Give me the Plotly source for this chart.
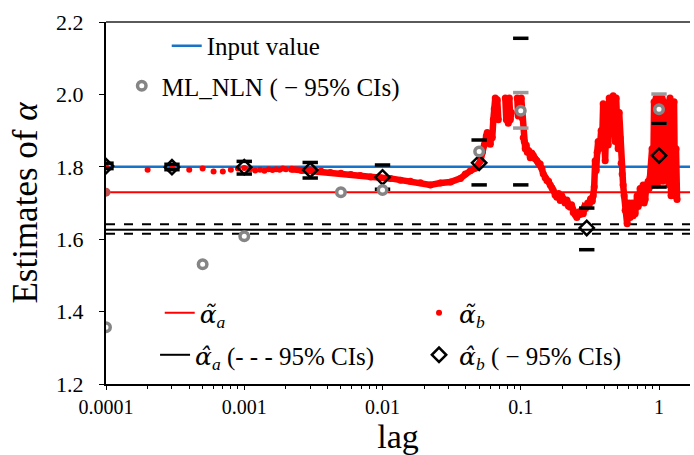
import plotly.graph_objects as go

FONT = "'Liberation Serif', 'Times New Roman', serif"
GREEK = "'DejaVu Serif', serif"

# ---------------- data ----------------
input_value = 1.80
alpha_a_tilde = 1.730
alpha_a_hat = 1.626
alpha_a_hat_ci_low = 1.615
alpha_a_hat_ci_high = 1.641
line_lags = [0.0001, 2.0]

ml_lag = [0.0001, 0.0005, 0.001, 0.005, 0.01, 0.05, 0.1, 1.0]
ml_alpha = [1.357, 1.531, 1.608, 1.730, 1.736, 1.842, 1.955, 1.959]
ml_ci_lag = [0.1, 1.0]
ml_ci_low = [1.907, 1.920]
ml_ci_high = [2.005, 2.001]

b_lag = [0.0001, 0.0003, 0.001, 0.003, 0.01, 0.05, 0.1, 0.3, 1.0]
b_alpha = [1.802, 1.799, 1.799, 1.791, 1.771, 1.811, None, 1.631, 1.831]
b_ci_low = [1.795, 1.792, 1.780, 1.769, 1.738, 1.750, 1.750, 1.571, 1.744]
b_ci_high = [1.810, 1.807, 1.815, 1.812, 1.805, 1.874, 2.155, 1.686, 1.920]

tilde_b_lag_sparse = [0.0001, 0.0002, 0.0003, 0.0004, 0.0005, 0.0006, 0.0007,
                      0.0008, 0.0009, 0.0010, 0.0011, 0.0012, 0.0013, 0.0014,
                      0.0015, 0.0016, 0.0017, 0.0018, 0.0019, 0.0020]
tilde_b_sparse = [1.800, 1.792, 1.798, 1.792, 1.795, 1.787, 1.787,
                  1.792, 1.795, 1.797, 1.793, 1.790, 1.792, 1.789,
                  1.793, 1.791, 1.793, 1.792, 1.795, 1.793]

tilde_b_lag_dense = [
    0.0022, 0.0026, 0.0030, 0.0036, 0.0042, 0.0050, 0.0059, 0.0069, 0.0082,
    0.0097, 0.0114, 0.0135, 0.0159, 0.0188, 0.0222, 0.0262, 0.0310, 0.0366,
    0.0397, 0.0432, 0.0469, 0.0510, 0.0528, 0.0545, 0.0563, 0.0572, 0.0582,
    0.0602, 0.0612, 0.0622, 0.0633, 0.0643, 0.0654, 0.0665, 0.0676, 0.0688,
    0.0720,
    0.0773, 0.0786, 0.0799, 0.0812, 0.0826, 0.0840, 0.0854,
    0.0900,
    0.0943, 0.0959, 0.0975, 0.0991, 0.1008, 0.1025, 0.1042, 0.1060, 0.1077,
    0.1095, 0.1114, 0.1140, 0.1171, 0.1200, 0.1230, 0.1270, 0.1310, 0.1345,
    0.1383, 0.1420, 0.1453, 0.1500, 0.1544, 0.1590, 0.1633, 0.1680, 0.1716,
    0.1770, 0.1824, 0.1880, 0.1929, 0.1980, 0.2027, 0.2090, 0.2155, 0.2210,
    0.2278, 0.2330, 0.2394, 0.2470, 0.2544, 0.2620, 0.2691, 0.2760, 0.2829,
    0.2900, 0.2973, 0.3050, 0.3126, 0.3200, 0.3286, 0.3340, 0.3397, 0.3453,
    0.3510, 0.3569, 0.3629, 0.3690, 0.3752, 0.3815, 0.3879, 0.3944, 0.4010,
    0.4078, 0.4150, 0.4216, 0.4286, 0.4360, 0.4431, 0.4510, 0.4581, 0.4658,
    0.4735, 0.4815, 0.4896, 0.4980, 0.5062, 0.5150, 0.5233, 0.5320, 0.5410,
    0.5500, 0.5593, 0.5686, 0.5780, 0.5879, 0.5980, 0.6078, 0.6180, 0.6283,
    0.6390, 0.6495, 0.6600, 0.6716, 0.6830, 0.6943, 0.7060, 0.7178, 0.7298,
    0.7420, 0.7545, 0.7670, 0.7800, 0.7931, 0.8060, 0.8199, 0.8340, 0.8477,
    0.8620, 0.8763, 0.8911, 0.9060, 0.9213, 0.9366, 0.9524, 0.9683, 0.9846,
    1.0011, 1.017, 1.035, 1.052, 1.070, 1.088, 1.105, 1.124, 1.143, 1.162,
    1.182, 1.201, 1.222, 1.242, 1.263, 1.284, 1.305, 1.327, 1.350]
tilde_b_dense = [
    1.793, 1.790, 1.791, 1.788, 1.784, 1.782, 1.779, 1.776, 1.772,
    1.770, 1.768, 1.763, 1.760, 1.756, 1.750, 1.755, 1.758, 1.768,
    1.780, 1.789, 1.796, 1.815, 1.840, 1.860, 1.885, 1.895, 1.870,
    1.862, 1.890, 1.880, 1.930, 1.960, 1.990, 1.940, 1.985, 1.930,
    None,
    1.990, 1.930, 1.980, 1.920, 1.990, 1.930, 1.950,
    None,
    1.990, 1.940, 1.985, 1.950, 1.990, 1.935, 1.880, 1.870, 1.850,
    1.860, 1.840, 1.845, 1.825, 1.838, 1.832, 1.822, 1.817, 1.810,
    1.808, 1.795, 1.781, 1.770, 1.762, 1.760, 1.750, 1.742, 1.735,
    1.722, 1.716, 1.726, 1.707, 1.720, 1.712, 1.700, 1.708, 1.692,
    1.688, 1.695, 1.674, 1.668, 1.660, 1.675, 1.668, 1.680, 1.670,
    1.690, 1.688, 1.700, 1.695, 1.712, 1.705, 1.720, 1.745, 1.817,
    1.790, 1.840, 1.870, 1.850, 1.862, 1.900, 1.870, 1.974, 1.880,
    1.817, 1.930, 1.900, 1.860, 1.990, 1.960, 1.900, 1.950, 1.996,
    1.920, 1.870, 1.990, 1.940, 1.850, 1.950, 1.880, 1.810, 1.780,
    1.750, 1.720, 1.680, 1.700, 1.643, 1.690, 1.700, 1.660, 1.690,
    1.700, 1.665, 1.690, 1.670, 1.700, 1.720, 1.690, 1.700, 1.740,
    1.710, 1.720, 1.750, 1.700, 1.710, 1.740, 1.750, 1.760, 1.740,
    1.770, 1.790, 1.850, 1.750, 1.980, 1.760, 1.990, 1.750, 1.990,
    1.760, 1.980, 1.770, 1.990, 1.760, 1.980, 1.780, 1.960, 1.800,
    1.970, 1.750, 1.990, 1.720, 1.940, 1.800, 1.980, 1.720, 1.850, 1.710]

x_tick_vals = [0.0001, 0.001, 0.01, 0.1, 1]
x_tick_text = ["0.0001", "0.001", "0.01", "0.1", "1"]

# ---------------- styles ----------------
BLUE = "#1673c8"
RED = "#ff0000"
GRAY = "#858585"


def greek(accent, sub):
    return ("<span style=\"font-family:%s\"><i>α%s</i></span>"
            "<sub><i>%s</i></sub>" % (GREEK, accent, sub))


fig = go.Figure()

fig.add_trace(go.Scatter(x=line_lags, y=[input_value] * 2, mode="lines",
                         line=dict(color=BLUE, width=2.5),
                         name="Input value", legend="legend"))
fig.add_trace(go.Scatter(x=line_lags, y=[alpha_a_tilde] * 2, mode="lines",
                         line=dict(color=RED, width=2),
                         name=greek("\u0303", "a"), legend="legend3"))
fig.add_trace(go.Scatter(x=line_lags[:1], y=[alpha_a_tilde], mode="markers",
                         marker=dict(color="#c0504d", size=9),
                         showlegend=False))
fig.add_trace(go.Scatter(x=line_lags, y=[alpha_a_hat] * 2, mode="lines",
                         line=dict(color="black", width=2),
                         name=greek("\u0302", "a") + " (- - - 95% CIs)",
                         legend="legend4"))
for v in (alpha_a_hat_ci_low, alpha_a_hat_ci_high):
    fig.add_trace(go.Scatter(x=line_lags, y=[v] * 2, mode="lines",
                             line=dict(color="black", width=2, dash="dash"),
                             showlegend=False))

fig.add_trace(go.Scatter(x=tilde_b_lag_sparse, y=tilde_b_sparse, mode="markers",
                         marker=dict(color=RED, size=6),
                         name=greek("\u0303", "b"), legend="legend5"))
fig.add_trace(go.Scatter(x=tilde_b_lag_dense, y=tilde_b_dense,
                         mode="lines+markers", connectgaps=False,
                         line=dict(color=RED, width=6.5),
                         marker=dict(color=RED, size=7),
                         showlegend=False))

fig.add_trace(go.Scatter(x=ml_ci_lag + ml_ci_lag, y=ml_ci_low + ml_ci_high,
                         mode="markers",
                         marker=dict(symbol="line-ew", size=11, color="#9a9a9a",
                                     line=dict(color="#9a9a9a", width=3.5)),
                         showlegend=False))
fig.add_trace(go.Scatter(x=b_lag + b_lag, y=b_ci_low + b_ci_high,
                         mode="markers",
                         marker=dict(symbol="line-ew", size=11, color="black",
                                     line=dict(color="black", width=3.5)),
                         showlegend=False))
fig.add_trace(go.Scatter(x=b_lag, y=b_alpha, mode="markers",
                         marker=dict(symbol="diamond-open", size=11,
                                     color="black",
                                     line=dict(color="black", width=2.5)),
                         name=greek("\u0302", "b") + " ( − 95% CIs)",
                         legend="legend6"))
fig.add_trace(go.Scatter(x=ml_lag, y=ml_alpha, mode="markers",
                         marker=dict(symbol="circle", size=8.5, color="white",
                                     line=dict(color=GRAY, width=3.5)),
                         name="ML_NLN ( − 95% CIs)", legend="legend2"))

leg_font = dict(family=FONT, size=25, color="black")


def leg(x, y):
    return dict(x=x, y=y, xanchor="left", yanchor="middle", font=leg_font,
                bgcolor="rgba(0,0,0,0)", borderwidth=0)


fig.update_layout(
    width=694, height=455,
    margin=dict(l=106, r=4, t=22, b=71),
    paper_bgcolor="white", plot_bgcolor="white",
    font=dict(family=FONT, color="black"),
    legend=leg(0.104, 0.934),
    legend2=leg(0.027, 0.823),
    legend3=leg(0.092, 0.196),
    legend4=leg(0.084, 0.080),
    legend5=leg(0.536, 0.196),
    legend6=leg(0.536, 0.080),
    xaxis=dict(type="log", range=[-4, 0.224], tickmode="array",
               tickvals=x_tick_vals, ticktext=x_tick_text,
               ticks="outside", ticklen=4, tickwidth=1, tickcolor="black",
               showline=True, linecolor="black", linewidth=2,
               showgrid=False, zeroline=False,
               tickfont=dict(family=FONT, size=20, color="black"),
               minor=dict(ticks="outside", ticklen=3, tickcolor="black",
                          tickwidth=1, dtick="D1", showgrid=False),
               title=dict(text="lag", font=dict(family=FONT, size=34),
                          standoff=4)),
    yaxis=dict(range=[1.2, 2.2], dtick=0.2, tick0=1.2, tickformat=".1f",
               ticks="outside", ticklen=5, tickwidth=1, tickcolor="black",
               showline=True, linecolor="black", linewidth=2,
               showgrid=False, zeroline=False, ticklabelstandoff=11,
               tickfont=dict(family=FONT, size=22, color="black"),
               title=dict(text="Estimates of <i>α</i>",
                          font=dict(family=FONT, size=35), standoff=8)),
    shapes=[dict(type="line", xref="paper", yref="paper", x0=0, x1=1,
                 y0=1, y1=1, line=dict(color="#5a5a5a", width=2))],
)

fig.write_html("out.html")
